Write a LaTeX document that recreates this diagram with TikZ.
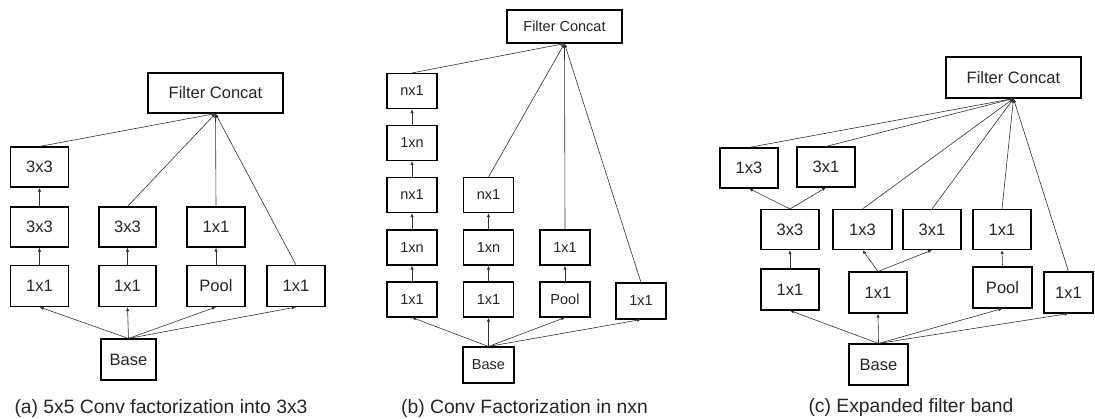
\documentclass[tikz,border=0pt]{standalone}
\usepackage{fontspec}
\setmainfont{Liberation Sans}
\usetikzlibrary{arrows.meta}
\begin{document}
\begin{tikzpicture}[x=1pt,y=-1pt,
  bx/.style={draw=black, line width=1.1pt, inner sep=0pt, align=center, fill=white, text=black!85},
  fa/.style={bx, minimum width=58pt, minimum height=40pt, font=\fontsize{16.5}{18}\selectfont},
  fb/.style={bx, minimum width=50pt, minimum height=35pt, font=\fontsize{14.5}{16}\selectfont},
  fc/.style={bx, minimum width=58pt, minimum height=40pt, font=\fontsize{16.5}{18}\selectfont},
  ar/.style={draw=black!80, line width=0.6pt, -{Latex[length=4pt,width=3.2pt]}},
  capt/.style={font=\fontsize{19.3}{22}\selectfont, inner sep=0pt, text=black!85},
]
\useasboundingbox (0,0) rectangle (1095,418);

% ---------- (a) ----------
\node[fa, minimum width=135pt] (aC) at (215.5,93) {Filter Concat};
\node[fa] (a13) at (39.5,167) {3x3};
\node[fa] (a12) at (39.5,227) {3x3};
\node[fa, minimum height=41pt] (a11) at (39.5,286) {1x1};
\node[fa, minimum width=57pt] (a22) at (127.5,227) {3x3};
\node[fa, minimum width=57pt, minimum height=41pt] (a21) at (127.5,286) {1x1};
\node[fa] (a32) at (216,227) {1x1};
\node[fa, minimum height=41pt] (a31) at (216,286) {Pool};
\node[fa, minimum height=41pt] (a41) at (296,286) {1x1};
\node[fa, minimum width=55pt, minimum height=41pt] (aB) at (128.5,359.5) {Base};

\foreach \t in {a11,a21,a31,a41} \draw[ar] (aB.north) -- (\t.south);
\draw[ar] (a11.north) -- (a12.south);
\draw[ar] (a12.north) -- (a13.south);
\draw[ar] (a21.north) -- (a22.south);
\draw[ar] (a31.north) -- (a32.south);
\foreach \s in {a13,a22,a32,a41} \draw[ar] (\s.north) -- (aC.south);

% ---------- (b) ----------
\node[fb, minimum width=115pt, minimum height=33pt] (bC) at (564.5,26.5) {Filter Concat};
\node[fb] (b15) at (412,91) {nx1};
\node[fb] (b14) at (412,143) {1xn};
\node[fb] (b13) at (412,195) {nx1};
\node[fb] (b12) at (412,247.5) {1xn};
\node[fb] (b11) at (412,299.5) {1x1};
\node[fb] (b23) at (488.5,195) {nx1};
\node[fb] (b22) at (488.5,247.5) {1xn};
\node[fb] (b21) at (488.5,299.5) {1x1};
\node[fb] (b32) at (565,247.5) {1x1};
\node[fb] (b31) at (565,299.5) {Pool};
\node[fb, minimum height=36pt] (b41) at (641,301) {1x1};
\node[fb, minimum width=51pt, minimum height=36pt] (bB) at (488.5,365) {Base};

\foreach \t in {b11,b21,b31,b41} \draw[ar] (bB.north) -- (\t.south);
\draw[ar] (b11.north) -- (b12.south);
\draw[ar] (b12.north) -- (b13.south);
\draw[ar] (b13.north) -- (b14.south);
\draw[ar] (b14.north) -- (b15.south);
\draw[ar] (b21.north) -- (b22.south);
\draw[ar] (b22.north) -- (b23.south);
\draw[ar] (b31.north) -- (b32.south);
\foreach \s in {b15,b23,b32,b41} \draw[ar] (\s.north) -- (bC.south);

% ---------- (c) ----------
\node[fc, minimum width=135pt, minimum height=41pt] (cC) at (1013.5,77.5) {Filter Concat};
\node[fc] (c1a) at (749,168) {1x3};
\node[fc] (c1b) at (826,167) {3x1};
\node[fc] (c33) at (790,229.5) {3x3};
\node[fc, minimum width=59pt] (c13) at (862.5,229.5) {1x3};
\node[fc] (c31) at (932,229.5) {3x1};
\node[fc] (c11) at (1002,229.5) {1x1};
\node[fc, minimum height=41pt] (cA) at (790,289.5) {1x1};
\node[fc, minimum height=41pt] (cB) at (878,292.5) {1x1};
\node[fc, minimum width=59pt, minimum height=41pt] (cP) at (1002.5,287.5) {Pool};
\node[fc, minimum width=49pt, minimum height=41pt] (cD) at (1068.5,292.5) {1x1};
\node[fc, minimum width=59pt, minimum height=41pt] (cBase) at (878.5,364.5) {Base};

\foreach \t in {cA,cB,cP,cD} \draw[ar] (cBase.north) -- (\t.south);
\draw[ar] (cA.north) -- (c33.south);
\draw[ar] (c33.north) -- (c1a.south);
\draw[ar] (c33.north) -- (c1b.south);
\draw[ar] (cB.north) -- (c13.south);
\draw[ar] (cB.north) -- (c31.south);
\draw[ar] (cP.north) -- (c11.south);
\foreach \s in {c1a,c1b,c13,c31,c11,cD} \draw[ar] (\s.north) -- (cC.south);

% ---------- captions ----------
\node[capt] (capa) at (161,408) {(a) 5x5 Conv factorization into 3x3};
\node[capt] (capb) at (524.5,408) {(b) Conv Factorization in nxn};
\node[capt] (capc) at (911,408) {(c) Expanded filter band};
\end{tikzpicture}
\end{document}
